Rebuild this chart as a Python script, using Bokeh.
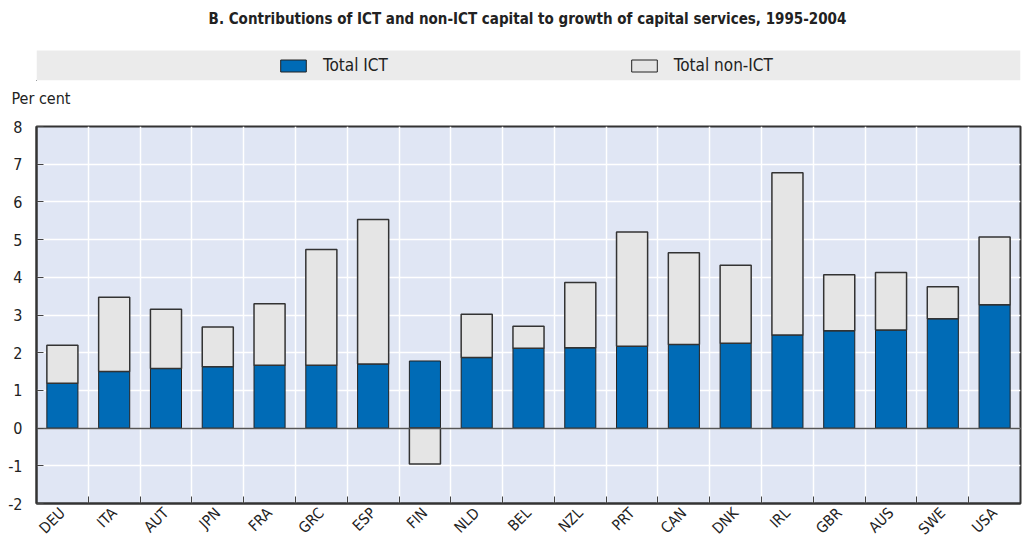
import math
from bokeh.plotting import figure
from bokeh.layouts import column
from bokeh.models import (Range1d, FixedTicker, Legend, LegendItem, ColumnDataSource, Title)
from bokeh.embed import file_html
from bokeh.resources import INLINE

FONT = "DejaVu Sans Condensed"

countries = ["DEU", "ITA", "AUT", "JPN", "FRA", "GRC", "ESP", "FIN", "NLD", "BEL",
             "NZL", "PRT", "CAN", "DNK", "IRL", "GBR", "AUS", "SWE", "USA"]
total_ict = [1.19, 1.50, 1.58, 1.63, 1.67, 1.67, 1.70, 1.78, 1.87, 2.12,
             2.13, 2.17, 2.22, 2.25, 2.47, 2.58, 2.60, 2.90, 3.27]
total_non_ict = [1.01, 1.97, 1.57, 1.05, 1.63, 3.07, 3.83, -0.95, 1.15, 0.58,
                 1.73, 3.03, 2.43, 2.07, 4.30, 1.49, 1.53, 0.85, 1.80]
y_ticks = [-2, -1, 0, 1, 2, 3, 4, 5, 6, 7, 8]
title_text = "B. Contributions of ICT and non-ICT capital to growth of capital services, 1995-2004"
series_names = ["Total ICT", "Total non-ICT"]
y_unit = "Per cent"

BLUE = "#006bb6"
GREY = "#e5e5e5"
BG = "#e0e6f4"
TXT = "#222222"

W = 1023
LEFT, RIGHT = 36, 3

# ---------- data sources ----------
xc = [i + 0.5 for i in range(len(countries))]
non_bottom = [ict if n >= 0 else 0 for ict, n in zip(total_ict, total_non_ict)]
non_top = [ict + n if n >= 0 else n for ict, n in zip(total_ict, total_non_ict)]
src = ColumnDataSource(dict(x=xc, ict=total_ict, nb=non_bottom, nt=non_top))

# ---------- header figure: title, legend band, unit ----------
HH = 118
HF = 80  # header frame height (title + legend band)
head = figure(width=W, height=HH, x_range=Range1d(LEFT, W - RIGHT), y_range=Range1d(HF, 0),
              output_backend="svg", toolbar_location=None,
              min_border_left=LEFT, min_border_right=RIGHT, min_border_top=0,
              min_border_bottom=HH - HF)
head.axis.visible = False
head.grid.visible = False
head.outline_line_color = None
head.background_fill_color = "white"
head.border_fill_color = "white"
head.quad(left=[LEFT], right=[W - RIGHT], top=[50], bottom=[HF], fill_color="#ebebeb", line_color=None)
head.text(x=[527], y=[18], text=[title_text], text_align="center", text_baseline="middle",
          text_font_size="15px", text_font_style="bold", text_color=TXT,
          text_font={"value": FONT})
head.add_layout(Title(text=y_unit, align="left", offset=-25, standoff=13,
                      text_font_size="16px", text_font_style="normal", text_color=TXT,
                      text_font=FONT), "below")
r1 = head.vbar(x=[-5000], bottom=[500], top=[501], width=1, fill_color=BLUE, line_color=TXT)
r2 = head.vbar(x=[-5000], bottom=[500], top=[501], width=1, fill_color=GREY, line_color=TXT)
leg = Legend(items=[LegendItem(label=series_names[0], renderers=[r1]),
                    LegendItem(label=series_names[1], renderers=[r2])],
             orientation="horizontal", location=(281 - LEFT - 4, 0), padding=0, margin=0,
             spacing=240, glyph_width=32, glyph_height=15, label_standoff=14,
             label_height=30,
             label_text_font=FONT, label_text_font_size="17px", label_text_color=TXT,
             background_fill_alpha=0, border_line_color=None)
head.add_layout(leg, "center")

# ---------- main chart ----------
p = figure(width=W, height=547 - HH, x_range=Range1d(0, len(countries)), y_range=Range1d(-2, 8),
           output_backend="svg", toolbar_location=None,
           min_border_left=LEFT, min_border_right=RIGHT, min_border_top=8, min_border_bottom=44)
p.background_fill_color = BG
p.outline_line_color = "#333333"
p.outline_line_width = 2

p.vbar(x="x", bottom=0, top="ict", width=0.6, source=src, fill_color=BLUE,
       line_color=TXT, line_width=1)
p.vbar(x="x", bottom="nb", top="nt", width=0.6, source=src, fill_color=GREY,
       line_color="#333333", line_width=1.5)

# x axis: labels at bar centres, visible ticks at category boundaries
p.xaxis.ticker = FixedTicker(ticks=xc, minor_ticks=list(range(1, len(countries))))
p.xaxis.major_label_overrides = {x: c for x, c in zip(xc, countries)}
p.xaxis.major_label_orientation = math.pi / 4
p.xaxis.major_tick_in = 0
p.xaxis.major_tick_out = 0
p.xaxis.minor_tick_in = 7
p.xaxis.minor_tick_out = 0
p.xaxis.minor_tick_line_color = "#444444"
p.xaxis.axis_line_color = "#333333"
p.xaxis.axis_line_width = 2
p.xaxis.major_label_standoff = 7
p.xaxis.major_label_text_font = FONT
p.xaxis.major_label_text_font_size = "15px"
p.xaxis.major_label_text_color = TXT

p.xgrid.grid_line_color = None
p.xgrid.minor_grid_line_color = "white"
p.xgrid.minor_grid_line_width = 1.5

# y axis
p.yaxis.ticker = FixedTicker(ticks=y_ticks)
p.yaxis.major_label_overrides = {t: str(t) for t in y_ticks}
p.yaxis.major_tick_in = 7
p.yaxis.major_tick_out = 0
p.yaxis.minor_tick_line_color = None
p.yaxis.major_tick_line_color = "#444444"
p.yaxis.axis_line_color = "#333333"
p.yaxis.axis_line_width = 2
p.yaxis.major_label_standoff = 14
p.yaxis.major_label_text_font = FONT
p.yaxis.major_label_text_font_size = "16px"
p.yaxis.major_label_text_color = TXT
p.ygrid.ticker = FixedTicker(ticks=y_ticks)
p.ygrid.grid_line_color = "white"
p.ygrid.grid_line_width = 1.5

p.hspan(y=[0], line_color="#555555", line_width=1.5)

layout = column(head, p, spacing=0)
open("out.html", "w").write(file_html(layout, INLINE))
